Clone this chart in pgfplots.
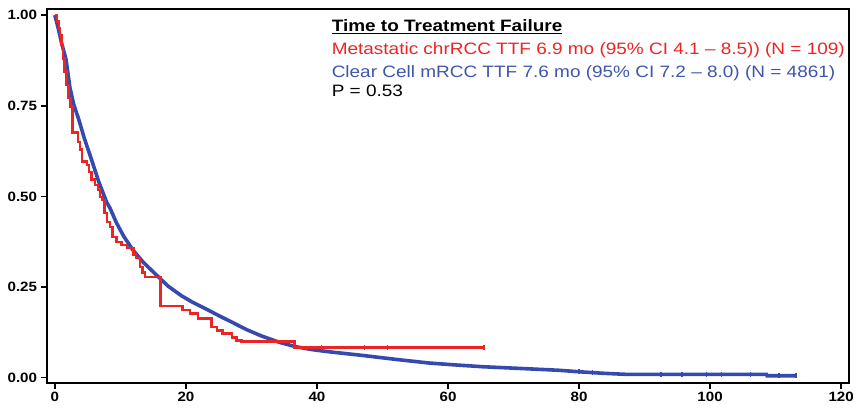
\documentclass[border=0pt]{standalone}
\usepackage{fontspec}
\setmainfont{Liberation Sans}
\usepackage{pgfplots}
\pgfplotsset{compat=1.18}
\definecolor{kmRed}{RGB}{237,36,36}
\definecolor{kmBlue}{RGB}{52,74,172}
\definecolor{txtBlue}{RGB}{62,86,172}

\begin{document}
\begin{tikzpicture}
\begin{axis}[
  scale only axis,
  width=802pt, height=374pt,
  xmin=-1.2, xmax=121.2,
  ymin=-0.015, ymax=1.017,
  xtick={0,20,40,60,80,100,120},
  ytick={0,0.25,0.5,0.75,1},
  yticklabels={0.00,0.25,0.50,0.75,1.00},
  xtick pos=left, ytick pos=left,
  tick align=outside,
  major tick length=6pt,
  axis line style={black,line width=2.4pt},
  tick style={black,line width=1.6pt},
  ticklabel style={font=\fontsize{13.5}{16}\selectfont\bfseries, xscale=1.12},
  /pgf/number format/assume math mode=true,
  clip=false,
]
% Clear cell mRCC (N = 4861)
\addplot[sharp plot, kmBlue, line width=3.6pt] coordinates {
(0,1.0) (0.5,0.965) (1.0,0.925) (1.7,0.878) (2.3,0.80) (2.9,0.752)
(3.6,0.715) (4.5,0.66) (5.6,0.601) (6.7,0.54) (7.9,0.484) (8.4,0.468)
(9.4,0.427) (10.5,0.39) (11.9,0.352) (13.5,0.318) (15.5,0.283)
(17.3,0.252) (19.3,0.226) (21.0,0.208) (23.0,0.190) (25.0,0.171)
(27.0,0.153) (29.3,0.132) (31.5,0.115) (34.3,0.097) (36.8,0.085)
(39.3,0.077) (41.9,0.071) (47.0,0.061) (52.1,0.050) (57.2,0.040)
(61.0,0.035) (65.2,0.030) (72.4,0.024) (77.0,0.020) (80.0,0.016)
(83.5,0.012) (87.0,0.009) (108.6,0.009) (108.7,0.005) (113.1,0.005)
};
\addplot[only marks, kmBlue, mark=|, mark size=2.5pt, line width=1.2pt] coordinates {
(80.0,0.016) (82.0,0.014) (92.5,0.009) (95.7,0.009) (99.5,0.009)
(101.7,0.009) (106.2,0.009) (110.5,0.005) (113.1,0.005)
};
% Metastatic chrRCC (N = 109)
\addplot[const plot, kmRed, line width=2.4pt] coordinates {
(0,1.0) (0.3,0.982) (0.6,0.963) (0.8,0.945) (1.0,0.917) (1.2,0.880)
(1.5,0.844) (1.8,0.807) (2.1,0.771) (2.4,0.748) (2.7,0.676) (3.5,0.650)
(3.8,0.629) (4.1,0.596) (4.9,0.587) (5.2,0.568) (5.6,0.546) (6.1,0.532)
(6.6,0.518) (6.9,0.499) (7.2,0.490) (7.6,0.454) (8.0,0.430) (8.4,0.416)
(8.8,0.388) (9.4,0.374) (10.2,0.365) (11.0,0.358) (12.0,0.340)
(12.4,0.330) (13.0,0.305) (13.4,0.290) (13.8,0.277) (16.1,0.197)
(19.5,0.186) (20.6,0.177) (21.8,0.163) (23.9,0.139) (24.7,0.130)
(25.6,0.122) (27.0,0.111) (27.7,0.102) (28.5,0.100) (36.6,0.083)
(65.5,0.083)
};
\addplot[only marks, kmRed, mark=|, mark size=2.5pt, line width=1.2pt] coordinates {
(40.7,0.083) (47.3,0.083) (50.8,0.083) (65.5,0.083)
};
\node[anchor=base west, xscale=1.15, font=\fontsize{16.5}{19}\selectfont\bfseries]
  at (rel axis cs:0.350,0.9385) {\underline{Time to Treatment Failure}};
\node[anchor=base west, xscale=1.15, text=kmRed, font=\fontsize{16.5}{19}\selectfont]
  at (rel axis cs:0.350,0.877) {Metastatic chrRCC TTF 6.9 mo (95\% CI 4.1 – 8.5)) (N = 109)};
\node[anchor=base west, xscale=1.15, text=txtBlue, font=\fontsize{16.5}{19}\selectfont]
  at (rel axis cs:0.350,0.818) {Clear Cell mRCC TTF 7.6 mo (95\% CI 7.2 – 8.0) (N = 4861)};
\node[anchor=base west, xscale=1.15, font=\fontsize{16.5}{19}\selectfont]
  at (rel axis cs:0.350,0.765) {P = 0.53};
\end{axis}
\pgfresetboundingbox
\path (-47pt,-31pt) rectangle (811pt,383pt);
\end{tikzpicture}
\end{document}
